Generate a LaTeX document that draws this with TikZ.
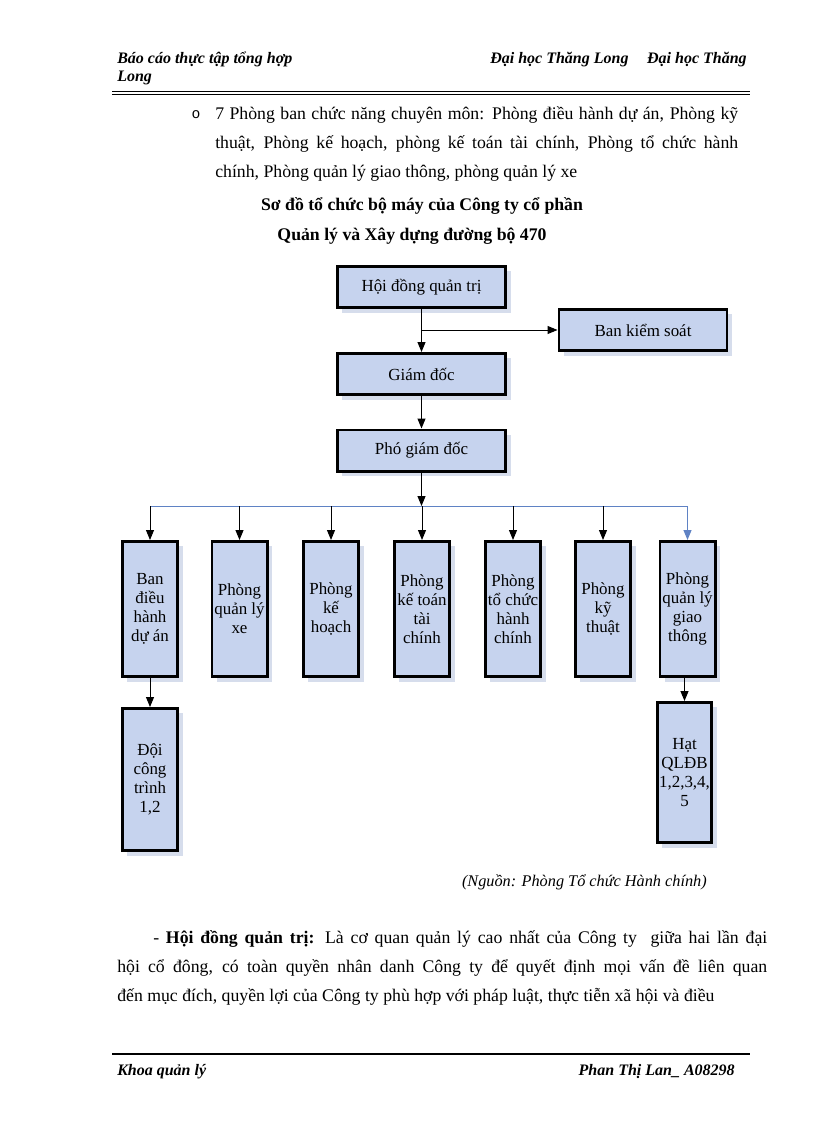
\documentclass[tikz,border=0pt]{standalone}
\usepackage{fontspec}
\setmainfont{Liberation Serif}
\newfontfamily\bulletfont{Liberation Mono}
\usetikzlibrary{arrows.meta,shadows}
\definecolor{boxfill}{HTML}{C6D3EE}
\definecolor{shadowcol}{HTML}{D6DDEC}
\definecolor{busblue}{HTML}{5F82C4}
\begin{document}
\begin{tikzpicture}[x=0.75pt,y=-0.75pt,
  txt/.style={inner sep=0pt, anchor=base west, font=\fontsize{13.3}{16}\selectfont},
  ttl/.style={inner sep=0pt, anchor=base, font=\fontsize{13.3}{16}\selectfont\bfseries},
  hdr/.style={inner sep=0pt, font=\fontsize{12}{14}\selectfont\bfseries\itshape},
  bx/.style={draw=black, line width=1.9pt, fill=boxfill, inner sep=0pt, align=center,
    font=\fontsize{12.7}{14.3}\selectfont,
    drop shadow={shadow xshift=3.8pt, shadow yshift=-3.8pt, fill=shadowcol, opacity=1}},
  widebx/.style={bx, minimum width=126.3pt, minimum height=31.1pt},
  tallbx/.style={bx, minimum width=41.6pt, minimum height=101.6pt},
  conn/.style={line width=0.75pt, -{Triangle[length=7.5pt,width=6pt]}},
  busline/.style={line width=0.75pt, draw=busblue}
]
\useasboundingbox (0,0) rectangle (816,1123);
\fill[white] (0,0) rectangle (816,1123);

% header
\node[hdr, anchor=base west] (hl1) at (117,64) {Báo cáo thực tập tổng hợp};
\node[hdr, anchor=base west] (hl2) at (117,82) {Long};
\node[hdr, anchor=base east] (hr) at (747,64) {Đại học Thăng Long\hspace{14pt}Đại học Thăng};
\draw[line width=1.2pt] (112,91.5) -- (750,91.5);
\draw[line width=0.7pt] (112,94.6) -- (750,94.6);

% bullet paragraph
\node[inner sep=0pt, anchor=base, font=\fontsize{11}{13}\bulletfont] (bul) at (196,119) {o};
\node[txt] (bl1) at (215,120) {\hbox to 392.25pt{7 Phòng ban chức năng chuyên môn: Phòng điều hành dự án, Phòng kỹ}};
\node[txt] (bl2) at (215,149) {\hbox to 392.25pt{thuật, Phòng kế hoạch, phòng kế toán tài chính, Phòng tổ chức hành}};
\node[txt] (bl3) at (215,178) {chính, Phòng quản lý giao thông, phòng quản lý xe};

% title
\node[ttl] (t1) at (422,210) {Sơ đồ tổ chức bộ máy của Công ty cổ phần};
\node[ttl] (t2) at (412,240) {Quản lý và Xây dựng đường bộ 470};

% boxes
\node[widebx] (hdqt) at (421.5,287) {Hội đồng quản trị};
\node[widebx] (bks) at (643,330) {Ban kiểm soát};
\node[widebx] (gd) at (421.5,374) {Giám đốc};
\node[widebx] (pgd) at (421.5,450.5) {Phó giám đốc};

\node[tallbx] (b1) at (150,609) {Ban\\điều\\hành\\dự án};
\node[tallbx] (b2) at (239.5,609) {Phòng\\quản lý\\xe};
\node[tallbx] (b3) at (331,609) {Phòng\\kế\\hoạch};
\node[tallbx] (b4) at (422,609) {Phòng\\kế toán\\tài\\chính};
\node[tallbx] (b5) at (513,609) {Phòng\\tổ chức\\hành\\chính};
\node[tallbx] (b6) at (603,609) {Phòng\\kỹ\\thuật};
\node[tallbx] (b7) at (687.5,609) {Phòng\\quản lý\\giao\\thông};

\node[bx, minimum width=41.6pt, minimum height=106.85pt] (doi) at (150,779.5) {Đội\\công\\trình\\1,2};
\node[bx, minimum width=40.85pt, minimum height=105.35pt] (hat) at (684.5,772.5) {Hạt\\QLĐB\\1,2,3,4,\\5};

% connectors
\draw[conn] (hdqt) -- (gd);
\coordinate (br) at (hdqt.south |- bks.west);
\draw[conn] (br) -- (bks.west);
\draw[conn] (gd) -- (pgd);
\coordinate (busc) at (421.5,506);
\draw[conn] (pgd) -- (busc);
\coordinate (busL) at (b1.north |- busc);
\coordinate (busR) at (b7.north |- busc);
\draw[busline] (busL) -- (busR);
\foreach \b in {b1,b2,b3,b4,b5,b6} {\draw[conn] (\b.north |- busc) -- (\b.north);}
\draw[conn, draw=busblue, fill=busblue] (busR) -- (b7.north);
\draw[conn] (b1) -- (doi);
\draw[conn] (hat.north |- b7.south) -- (hat.north);

% source
\node[inner sep=0pt, anchor=base east, font=\fontsize{12.2}{15}\selectfont\itshape] (src) at (707,886) {(Nguồn: Phòng Tổ chức Hành chính)};

% paragraph
\node[txt] (p1) at (153,943) {\hbox to 460.5pt{- \textbf{Hội đồng quản trị:} Là cơ quan quản lý cao nhất của Công ty\ \ giữa hai lần đại}};
\node[txt] (p2) at (117,972) {\hbox to 487.5pt{hội cổ đông, có toàn quyền nhân danh Công ty để quyết định mọi vấn đề liên quan}};
\node[txt] (p3) at (117,1001) {đến mục đích, quyền lợi của Công ty phù hợp với pháp luật, thực tiễn xã hội và điều};

% footer
\draw[line width=1.8pt] (112,1054) -- (750,1054);
\node[hdr, anchor=base west] (fl) at (117,1075) {Khoa quản lý};
\node[hdr, anchor=base east] (fr) at (735,1075) {Phan Thị Lan\_ A08298};
\end{tikzpicture}
\end{document}
